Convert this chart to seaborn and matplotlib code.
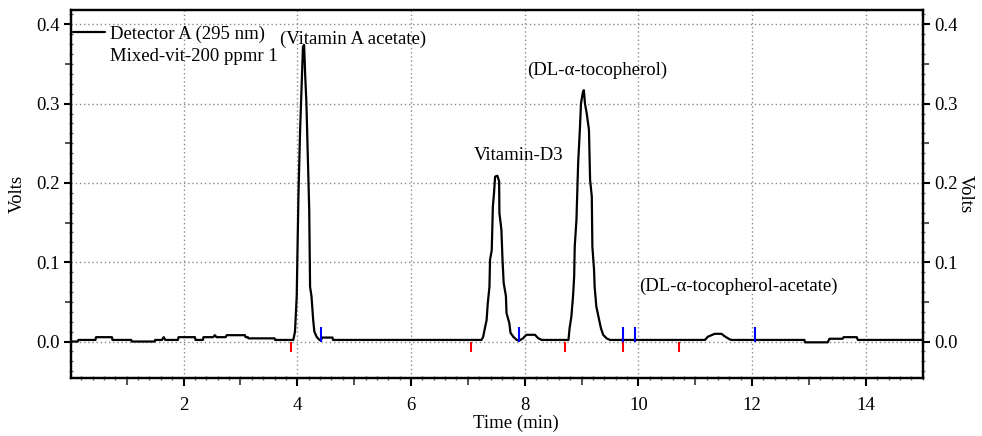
import numpy as np
import seaborn as sns
import matplotlib.pyplot as plt
from matplotlib.lines import Line2D

# chromatogram trace (min, volts)
time_min = [
    0.04, 0.14, 0.15, 0.45, 0.46, 0.74, 0.75, 1.08, 1.09, 1.49, 1.50, 1.62,
    1.65, 1.68, 1.90, 1.91, 2.20, 2.21, 2.34, 2.35, 2.52, 2.55, 2.58, 2.74,
    2.76, 3.08, 3.09, 3.13, 3.14, 3.60, 3.61, 3.93,
    # vitamin A acetate
    3.96, 3.99, 4.00, 4.02, 4.05, 4.07, 4.10, 4.12, 4.14, 4.16, 4.21, 4.225,
    4.25, 4.28, 4.30, 4.34, 4.39, 4.42, 4.43, 4.62, 4.63,
    # vitamin D3
    7.24, 7.27, 7.30, 7.33, 7.35, 7.38, 7.39, 7.42, 7.44, 7.46, 7.48, 7.52,
    7.55, 7.555, 7.59, 7.61, 7.63, 7.67, 7.68, 7.73, 7.75, 7.80, 7.86, 7.90,
    7.97, 8.03, 8.18, 8.24, 8.30,
    # DL-alpha-tocopherol
    8.77, 8.79, 8.82, 8.85, 8.87, 8.88, 8.91, 8.94, 8.97, 8.99, 9.02, 9.04,
    9.06, 9.09, 9.13, 9.15, 9.18, 9.19, 9.22, 9.23, 9.26, 9.31, 9.34, 9.38,
    9.44, 9.50,
    # tail
    11.17, 11.22, 11.34, 11.46, 11.52, 11.61, 11.65, 12.92, 12.93, 13.33,
    13.36, 13.59, 13.61, 13.84, 13.86, 15.0,
]
volts = [
    0.000, 0.000, 0.002, 0.002, 0.0055, 0.0055, 0.002, 0.002, 0.000, 0.000, 0.002, 0.002,
    0.0055, 0.002, 0.002, 0.0055, 0.0055, 0.002, 0.002, 0.0055, 0.0055, 0.008, 0.0055, 0.0055,
    0.008, 0.008, 0.0055, 0.0055, 0.004, 0.004, 0.002, 0.002,
    0.0126, 0.057, 0.099, 0.183, 0.267, 0.309, 0.372, 0.374, 0.334, 0.302, 0.166, 0.069,
    0.057, 0.027, 0.0126, 0.006, 0.002, 0.002, 0.005, 0.005, 0.002,
    0.002, 0.006, 0.017, 0.027, 0.048, 0.069, 0.103, 0.115, 0.170, 0.187, 0.208, 0.209,
    0.202, 0.162, 0.141, 0.103, 0.074, 0.057, 0.036, 0.023, 0.011, 0.006, 0.002, 0.001,
    0.004, 0.0085, 0.0085, 0.004, 0.002,
    0.002, 0.017, 0.031, 0.057, 0.082, 0.120, 0.153, 0.225, 0.267, 0.300, 0.313, 0.317,
    0.300, 0.288, 0.267, 0.204, 0.183, 0.120, 0.090, 0.069, 0.044, 0.027, 0.017, 0.0085,
    0.004, 0.002,
    0.002, 0.006, 0.0097, 0.0097, 0.0065, 0.0025, 0.002, 0.002, -0.001, -0.001,
    0.0035, 0.0035, 0.0055, 0.0055, 0.002, 0.002,
]

# integration marks
peak_starts = [3.89, 7.05, 8.71, 9.73, 10.71]
peak_ends = [4.42, 7.90, 9.73, 9.94, 12.05]

peak_labels = ["(Vitamin A acetate)", "Vitamin-D3", "(DL-\u03b1-tocopherol)",
               "(DL-\u03b1-tocopherol-acetate)"]
label_x = [3.70, 7.11, 8.04, 10.02]
label_y = [0.381, 0.234, 0.342, 0.069]

x_major = [2, 4, 6, 8, 10, 12, 14]
x_mid = [1, 3, 5, 7, 9, 11, 13]
y_major = [0.0, 0.1, 0.2, 0.3, 0.4]
y_mid = [0.05, 0.15, 0.25, 0.35]

FS = 13.5

sns.set_style("ticks")
plt.rcParams["font.family"] = ["Liberation Serif", "DejaVu Serif"]
plt.rcParams["font.size"] = FS
for key in ["text.color", "axes.labelcolor", "xtick.color", "ytick.color", "axes.edgecolor"]:
    plt.rcParams[key] = "black"

fig = plt.figure(figsize=(9.82, 4.36), dpi=100)
ax = fig.add_axes([0.0723, 0.133, 0.8673, 0.844])

ax.grid(True, which="major", color="#8a8a8a", linestyle=(0, (1, 2)), linewidth=1.0)
ax.set_axisbelow(True)

sns.lineplot(x=time_min, y=volts, ax=ax, color="black", linewidth=1.6,
             estimator=None, sort=False, legend=False)

for t in peak_starts:
    ax.vlines(t, -0.0135, 0.0, color="red", linewidth=1.5, zorder=4)
for t in peak_ends:
    ax.vlines(t, 0.0, 0.0177, color="blue", linewidth=1.5, zorder=4)

for txt, tx, ty in zip(peak_labels, label_x, label_y):
    ax.text(tx, ty, txt, ha="left", va="center", fontsize=FS)

ax.set_xlim(0.02, 15.0)
ax.set_ylim(-0.046, 0.418)
ax.set_xticks(x_major)
ax.set_xticks(np.arange(0.2, 15.01, 0.2), minor=True)
ax.set_yticks(y_major)
ax.set_yticklabels([f"{v:.1f}" for v in y_major])
ax.set_yticks(np.arange(-0.0375, 0.418, 0.0125), minor=True)

ax.tick_params(which="major", direction="out", width=1.5, length=6, color="black")
ax.tick_params(axis="x", which="major", pad=8)
ax.tick_params(axis="y", which="major", length=5, pad=3)
ax.tick_params(which="minor", direction="inout", width=1.0, length=3, color="#666666")

for s in ax.spines.values():
    s.set_linewidth(1.6)
    s.set_color("black")
    s.set_visible(True)

# medium ticks at odd minutes and half-tenths
secx = ax.secondary_xaxis("bottom")
secx.set_xticks(x_mid)
secx.tick_params(direction="out", length=5, width=1.2, labelbottom=False, color="#333333")
secx.spines["bottom"].set_visible(False)

ax2 = ax.twinx()
ax2.set_ylim(ax.get_ylim())
ax2.set_yticks(y_major)
ax2.set_yticklabels([f"{v:.1f}" for v in y_major])
ax2.set_yticks(np.arange(-0.0375, 0.418, 0.0125), minor=True)
ax2.tick_params(which="major", direction="out", width=1.5, length=5, pad=3)
ax2.tick_params(which="minor", direction="inout", width=1.0, length=3, color="#666666")
for s in ax2.spines.values():
    s.set_linewidth(1.6)

for a, side in [(ax, "left"), (ax2, "right")]:
    secy = a.secondary_yaxis(side)
    secy.set_yticks(y_mid)
    secy.tick_params(direction="out", length=4, width=1.2, labelleft=False,
                     labelright=False, color="#333333")
    secy.spines[side].set_visible(False)

ax.set_xlabel("Time (min)", va="center", ha="center")
ax.xaxis.set_label_coords(0.522, -0.122)
ax.set_ylabel("Volts", va="center", ha="center")
ax.yaxis.set_label_coords(-0.0634, 0.5)
ax2.set_ylabel("Volts", rotation=270, va="center", ha="center")
ax2.yaxis.set_label_coords(1.0497, 0.5)

handles = [Line2D([], [], color="black", linewidth=1.6),
           Line2D([], [], color="none")]
ax.legend(handles, ["Detector A (295 nm)", "Mixed-vit-200 ppmr 1"],
          loc="upper left", bbox_to_anchor=(0.002, 0.958), frameon=False,
          handlelength=1.7, handletextpad=0.3, labelspacing=0.25,
          borderaxespad=0.0, borderpad=0.0, fontsize=FS)

fig.savefig("out.png", dpi=100)
